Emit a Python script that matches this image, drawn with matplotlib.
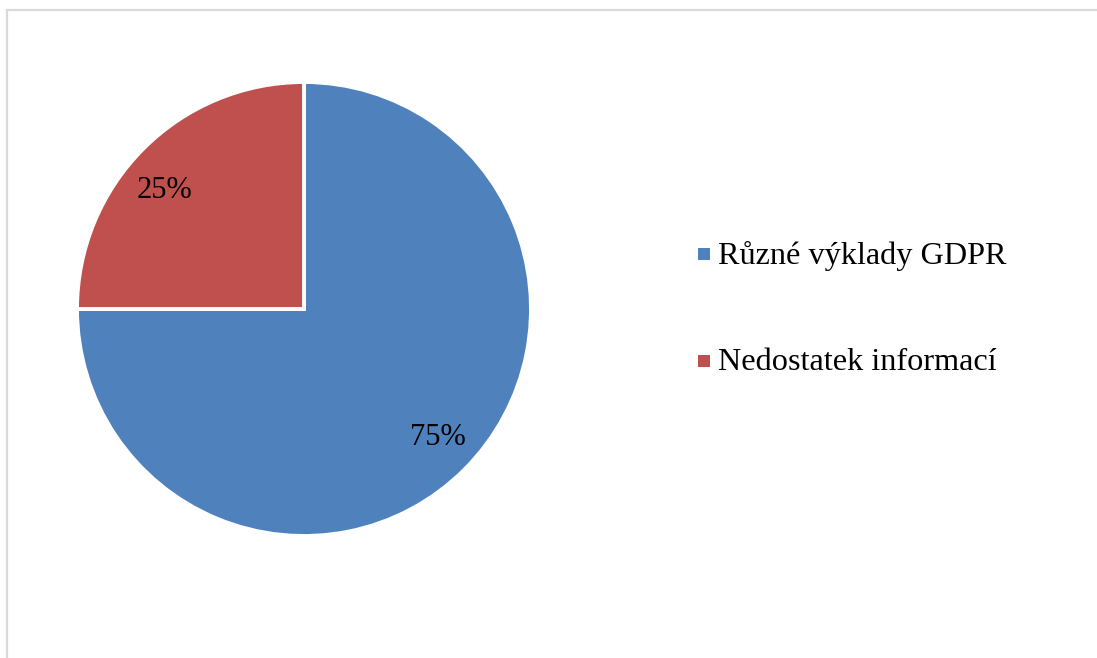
import matplotlib.pyplot as plt
from matplotlib.patches import Rectangle

categories = ["Různé výklady GDPR", "Nedostatek informací"]
shares = [75, 25]
colors = ["#4F81BD", "#C0504D"]

plt.rcParams["font.family"] = ["Liberation Serif", "DejaVu Serif"]

W, H = 1097, 658
fig = plt.figure(figsize=(W / 100, H / 100), dpi=100)

# light grey chart-area frame (runs off the right/bottom edge)
fig.patches.append(Rectangle((6.5 / W, -1.0), 2.0, 2.0 - 9.5 / H, transform=fig.transFigure,
                             fill=False, edgecolor="#d9d9d9", linewidth=1.6))

cx, cy, r = 304, 309, 227
ax = fig.add_axes([(cx - r) / W, (H - cy - r) / H, 2 * r / W, 2 * r / H])
wedges, _, autotexts = ax.pie(
    shares, colors=colors, startangle=90, counterclock=False, radius=1.0,
    autopct=lambda p: f"{p:.0f}%", pctdistance=0.8,
    wedgeprops=dict(edgecolor="white", linewidth=2.8),
    textprops=dict(fontsize=22, color="black"),
)
# small nudges to the percentage labels
for t, (dx, dy) in zip(autotexts, [(0.025, 0.0), (-0.05, -0.045)]):
    x, y = t.get_position()
    t.set_position((x + dx, y + dy))
ax.set_xlim(-1, 1)
ax.set_ylim(-1, 1)
ax.set_aspect("auto")
ax.axis("off")

# legend drawn by hand: small squares with labels
leg_y = [254, 361]
for label, col, y in zip(categories, colors, leg_y):
    fig.patches.append(Rectangle((698 / W, (H - y - 6) / H), 12 / W, 12 / H,
                                 transform=fig.transFigure, facecolor=col, edgecolor="none"))
    fig.text(718 / W, (H - y - 2) / H, label, fontsize=23.2, va="center", ha="left")

fig.savefig("out.png", dpi=100)
